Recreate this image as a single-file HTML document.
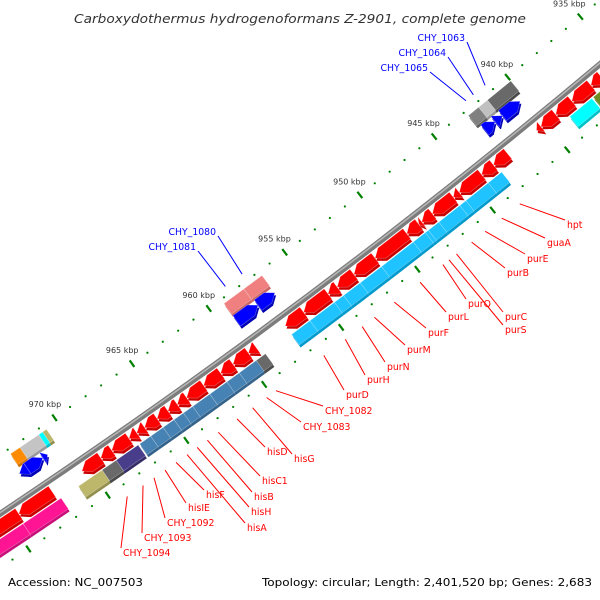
<!DOCTYPE html>
<html><head><meta charset="utf-8"><style>
html,body{margin:0;padding:0;background:#fff;}
svg{display:block;font-family:"DejaVu Sans","Liberation Sans",sans-serif;}
</style></head><body>
<svg id="map" width="600" height="600" viewBox="0 0 600 600" xmlns="http://www.w3.org/2000/svg">
<rect x="0" y="0" width="600" height="600" fill="#fff"/>
<text x="300" y="23" text-anchor="middle" font-size="12.5" font-style="italic" fill="#333" textLength="452" lengthAdjust="spacingAndGlyphs">Carboxydothermus hydrogenoformans Z-2901, complete genome</text>
<g id="ticks"></g>
<g id="backbone"></g>
<g id="feats"></g>
<g id="labels"></g>
<text x="8" y="586" font-size="11" fill="#000" textLength="135" lengthAdjust="spacingAndGlyphs">Accession: NC_007503</text>
<text x="592" y="586" text-anchor="end" font-size="11" fill="#000" textLength="330" lengthAdjust="spacingAndGlyphs">Topology: circular; Length: 2,401,520 bp; Genes: 2,683</text>
</svg>
<script>
// ---- data (kbp) ----
const tickMin = 930, tickMax = 980;
const redStart = [936.2,936.9,938.2,939.3,940.3,942.55,943.5,944.3,945.8,946.2,947.6,948.3,948.5,949.3,951.4,952.8,953.9,954.5,956.1,959.2,959.7,960.7,961.5,962.6,963.7,964.3,964.9,965.6,966.4,966.9,967.4,968.5,969.2,972.3,974.4];
const redEnd   = [936.9,938.2,939.3,940.3,940.6,943.5,944.3,945.8,946.2,947.6,948.3,948.5,949.3,951.4,952.8,953.9,954.5,956.1,957.3,959.7,960.7,961.5,962.6,963.7,964.3,964.9,965.6,966.4,966.9,967.4,968.5,969.2,970.4,974.4,976.8];
const outerStart = [935.3,937.3,943.4,944.3,945.8,946.2,947.6,948.3,948.5,949.3,951.4,952.8,953.9,954.5,956.1,959.0,959.6,960.7,961.5,962.6,963.7,964.3,964.9,965.6,966.4,967.2,968.6,969.5,972.1,974.5];
const outerEnd   = [937.2,938.8,944.3,945.8,946.2,947.6,948.3,948.5,949.3,951.4,952.8,953.9,954.5,956.1,957.3,959.6,960.7,961.5,962.6,963.7,964.3,964.9,965.6,966.4,967.1,968.6,969.5,971.0,974.5,977.0];
const outerType  = ['olive','cyan','sky','sky','sky','sky','sky','sky','sky','sky','sky','sky','sky','sky','sky','dgray','steel','steel','steel','steel','steel','steel','steel','steel','steel','slate','dgray','khaki','pink','pink'];
const innerStart  = [940.3,941.5,942.0,956.7,957.8,971.4,971.7,972.7];
const innerEnd    = [941.5,942.0,942.7,957.8,959.2,971.7,972.7,973.2];
const innerStrand = [-1,-1,-1,-1,-1,-1,-1,1];
const blockStart = [940.0,941.6,942.2,956.7,957.9,970.7,970.95,971.2,972.4];
const blockEnd   = [941.6,942.2,942.9,957.9,959.2,970.95,971.2,972.4,973.0];
const blockType  = ['dgray','lgray','gray','coral','coral','khaki','aqua','silver','orange'];
const geneNames = ['hpt','guaA','purE','purB','purC','purS','purQ','purL','purF','purM','purN','purH','purD','CHY_1082','CHY_1083','hisG','hisD','hisC1','hisB','hisH','hisA','hisF','hisIE','CHY_1092','CHY_1093','CHY_1094'];
const geneKbp   = [943.7,944.9,946.0,946.9,947.9,948.4,948.8,950.3,952.0,953.3,954.1,955.2,956.6,959.7,960.3,961.2,962.2,963.4,964.1,964.75,965.4,966.1,966.8,967.5,968.2,969.2];
const geneLabelX = [567,547,527,507,505,505,468,448,428,407,387,367,346,325,303,294,267,262,254,251,247,206,188,167,144,123];
const geneLabelY = [228,246,262,276,320,333,307,320,336,353,370,383,398,414,430,462,455,484,500,515,531,498,511,526,541,556];
const blueNames = ['CHY_1063','CHY_1064','CHY_1065','CHY_1080','CHY_1081'];
const blueKbp   = [941.2,942.0,942.5,957.5,958.6];
const blueLabelRight = [465,446,428,216,196];
const blueLabelY     = [41,56,71,235,250];

// ---- geometry (arc axis) ----
const CX=-3745, CY=-5108, R=6755, K0=945, A0=51.45, DA=0.1615;
function P(k,r){const a=(A0+(k-K0)*DA)*Math.PI/180;return [CX+r*Math.cos(a),CY+r*Math.sin(a)];}
const NS='http://www.w3.org/2000/svg';
function mk(tag,attrs,parent){const e=document.createElementNS(NS,tag);for(const a in attrs)e.setAttribute(a,attrs[a]);parent.appendChild(e);return e;}
const colors={olive:['#6b8e23','#4e6a18'],cyan:['#00ffff','#00c0c8'],sky:['#1ec3ff','#0099cc'],dgray:['#696969','#4a4a4a'],gray:['#808080','#5c5c5c'],lgray:['#c0c0c0','#999'],silver:['#c4c4c4','#9a9a9a'],steel:['#4682b4','#33628a'],slate:['#483d8b','#352c68'],khaki:['#bdb76b','#948f4f'],pink:['#ff1493','#c8107a'],coral:['#f08080','#c86464'],orange:['#ff8c00','#cc7000'],aqua:['#00ffff','#00c0c8'],red:['#ff0000','#c80000'],blue:['#0000ff','#0000b4']};
function ptsStr(a){return a.map(p=>p[0].toFixed(2)+','+p[1].toFixed(2)).join(' ');}
function shapePts(k1,k2,r1,r2,strand){
  const rm=(r1+r2)/2;
  if(strand===0) return [P(k1,r1),P(k2,r1),P(k2,r2),P(k1,r2)];
  const t=Math.min(0.45,k2-k1);
  if(strand>0) return [P(k1,r1),P(k2-t,r1),P(k2,rm),P(k2-t,r2),P(k1,r2)];
  return [P(k2,r1),P(k1+t,r1),P(k1,rm),P(k1+t,r2),P(k2,r2)];
}
function drawShape(parent,k1,k2,r1,r2,strand,col,name){
  const g=mk('g',{},parent);
  
  
  const pts=shapePts(k1,k2,r1,r2,strand);
  const sh=pts.map(p=>[p[0]+1.3,p[1]+2.6]);
  mk('polygon',{points:ptsStr(sh),fill:col[1]},g);
  mk('polygon',{points:ptsStr(pts),fill:col[0],stroke:'rgba(255,255,255,0.35)','stroke-width':'0.6'},g);
}

// ticks
const tg=document.getElementById('ticks');
[6706,6800].forEach(function(rr,ri){
  for(let k=tickMin;k<=tickMax;k++){
    if(k%5===0){
      const a=P(k,rr-4),b=P(k,rr+4);
      const l=mk('line',{x1:a[0],y1:a[1],x2:b[0],y2:b[1],stroke:'#008000','stroke-width':'2.2'},tg);
      
      
      if(ri===0){
        const c=P(k,6689);
        const t=mk('text',{x:c[0],y:c[1]+3,'text-anchor':'middle','font-size':'8',fill:'#333'},tg);
        
        
        t.textContent=k+' kbp';
      }
    } else {
      const c=P(k,rr);
      const d=mk('circle',{cx:c[0],cy:c[1],r:'1.1',fill:'#008000'},tg);
      
      
    }
  }
});

// backbone
const bg=document.getElementById('backbone');
(function(){
  const a=P(925,R),b=P(985,R);
  const p=mk('path',{d:`M${a[0]},${a[1]} A${R},${R} 0 0 1 ${b[0]},${b[1]}`,fill:'none',stroke:'#7c7c7c','stroke-width':'6'},bg);
  
  
  const a2=P(925,R-1),b2=P(985,R-1);
  const h=mk('path',{d:`M${a2[0]},${a2[1]} A${R-1},${R-1} 0 0 1 ${b2[0]},${b2[1]}`,fill:'none',stroke:'#b8b8b8','stroke-width':'1.5'},bg);
  
  
})();

// features
const fg=document.getElementById('feats');
for(let i=0;i<blockStart.length;i++) drawShape(fg,blockStart[i],blockEnd[i],6711,6724,0,colors[blockType[i]],'inner-block');
for(let i=0;i<innerStart.length;i++) drawShape(fg,innerStart[i],innerEnd[i],6726,6739,innerStrand[i],colors.blue,'inner-gene');
for(let i=0;i<redStart.length;i++) drawShape(fg,redStart[i],redEnd[i],6759,6772,1,colors.red,'gene-arrow');
for(let i=0;i<outerStart.length;i++) drawShape(fg,outerStart[i],outerEnd[i],6776,6789,0,colors[outerType[i]],'outer-block');

// labels
const lg=document.getElementById('labels');
for(let i=0;i<geneNames.length;i++){
  const s=P(geneKbp[i],6812);
  const l=mk('line',{x1:s[0],y1:s[1],x2:geneLabelX[i]-2,y2:geneLabelY[i]-8,stroke:'#ff0000','stroke-width':'1'},lg);
  
  
  const t=mk('text',{x:geneLabelX[i],y:geneLabelY[i],'font-size':'9.3',fill:'#ff0000'},lg);
  
  
  t.textContent=geneNames[i];
}
for(let i=0;i<blueNames.length;i++){
  const s=P(blueKbp[i],6698);
  const l=mk('line',{x1:blueLabelRight[i]+2,y1:blueLabelY[i]+1,x2:s[0],y2:s[1],stroke:'#0000ff','stroke-width':'1'},lg);
  
  
  const t=mk('text',{x:blueLabelRight[i],y:blueLabelY[i],'text-anchor':'end','font-size':'9.3',fill:'#0000ff'},lg);
  
  
  t.textContent=blueNames[i];
}
</script>
</body></html>
